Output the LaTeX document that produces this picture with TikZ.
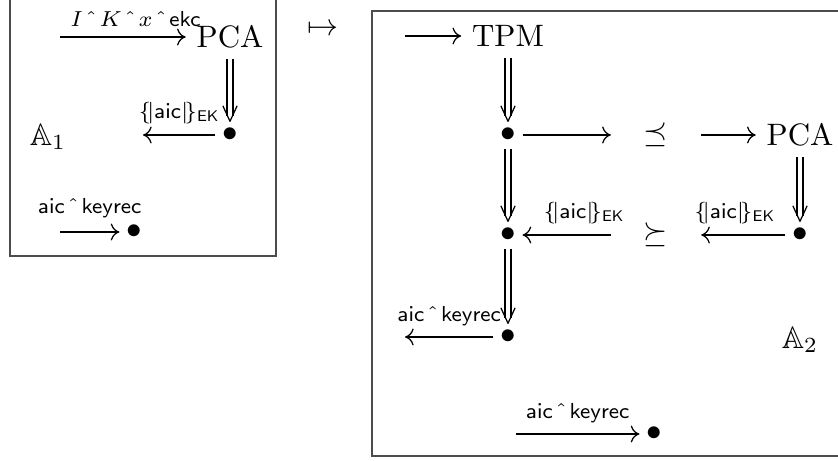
\documentclass[tikz,border=0pt]{standalone}
\usepackage{amsmath,amssymb}
\usetikzlibrary{arrows.meta,decorations.markings}

\begin{document}
\begin{tikzpicture}[x=0.1135cm,y=0.1135cm,>={To[length=2.8pt,width=5.5pt]},
 frame/.style={draw=black!70,line width=0.6pt},
 dot/.style={inner sep=2pt},
 rel/.style={inner xsep=10.5pt},
 lbl/.style={font=\scriptsize,above},
 shaft/.style={double,double distance=1.5pt,shorten >=1.8pt},
 vee/.style={decorate,decoration={markings,mark=at position 1 with
   {\draw[line join=round] (-5pt,2.3pt)--(0,0)--(-5pt,-2.3pt);}}}]
\useasboundingbox (0,0) rectangle (83.8,46.1);
% first automaton
\draw[frame] (1.0,20.5) rectangle (27.6,47.5);
\node (pcaL) at (23.0,42.4) {PCA};
\node[dot] (dL1) at (23.0,32.6) {$\bullet$};
\node[dot] (dL2) at (13.4,22.9) {$\bullet$};
\node (A1) at (4.8,32.4) {$\mathbb{A}_1$};
\coordinate (inL) at (6.0,42.4);
\coordinate (outL) at (14.3,32.6);
\coordinate (recL) at (6.0,22.9);
\node (map) at (32.3,43.1) {$\mapsto$};
% second automaton
\draw[frame] (37.2,0.5) rectangle (86.0,45.0);
\node (tpm) at (50.8,42.5) {TPM};
\node[dot] (dR1) at (50.8,32.6) {$\bullet$};
\node[rel] (prec) at (65.6,32.6) {$\preceq$};
\node (pcaR) at (80.0,32.6) {PCA};
\node[dot] (dR2) at (80.0,22.6) {$\bullet$};
\node[rel] (succ) at (65.6,22.6) {$\succeq$};
\node[dot] (dR3) at (50.8,22.6) {$\bullet$};
\node[dot] (dR4) at (50.8,12.4) {$\bullet$};
\node[dot] (dR5) at (65.4,2.7) {$\bullet$};
\node (A2) at (80.0,12.1) {$\mathbb{A}_2$};
\coordinate (inR) at (40.5,42.5);
\coordinate (outR) at (40.5,12.4);
\coordinate (recR) at (51.6,2.7);
% transitions
\draw[->] (inL) -- node[lbl,pos=0.6] {$I\ \hat{}\ K\ \hat{}\ x\ \hat{}\ \mathsf{ekc}$} (pcaL);
\draw[->] (dL1) -- node[lbl] {$\{\!|\mathsf{aic}|\!\}_{\mathsf{EK}}$} (outL);
\draw[->] (recL) -- node[lbl,yshift=1pt] {$\mathsf{aic}\ \hat{}\ \mathsf{keyrec}$} (dL2);
\draw[->] (inR) -- (tpm);
\draw[->] (dR1) -- (prec);
\draw[->] (prec) -- (pcaR);
\draw[->] (dR2) -- node[lbl,pos=0.6] {$\{\!|\mathsf{aic}|\!\}_{\mathsf{EK}}$} (succ);
\draw[->] (succ) -- node[lbl,pos=0.3] {$\{\!|\mathsf{aic}|\!\}_{\mathsf{EK}}$} (dR3);
\draw[->] (dR4) -- node[lbl] {$\mathsf{aic}\ \hat{}\ \mathsf{keyrec}$} (outR);
\draw[->] (recR) -- node[lbl] {$\mathsf{aic}\ \hat{}\ \mathsf{keyrec}$} (dR5);
% refinement steps
\foreach \u/\v in {pcaL/dL1,tpm/dR1,dR1/dR3,pcaR/dR2,dR3/dR4}{
  \draw[shaft] (\u)--(\v);
  \path[vee] (\u)--(\v);}
\end{tikzpicture}
\end{document}
